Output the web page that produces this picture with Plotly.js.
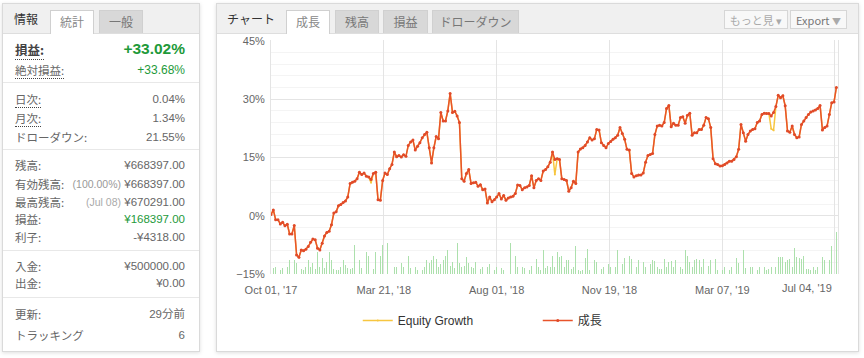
<!DOCTYPE html>
<html><head><meta charset="utf-8">
<script src="https://cdn.plot.ly/plotly-3.0.1.min.js"></script>
<style>
html,body{margin:0;padding:0;background:#fff;width:864px;height:358px;overflow:hidden;font-family:"Noto Sans CJK JP","Liberation Sans",sans-serif;}
.panel{position:absolute;background:#fff;border:1px solid #dadada;box-shadow:0 1px 4px rgba(0,0,0,0.13);}
.hdr{position:absolute;left:0;top:0;right:0;height:29px;background:#f0f0f0;border-bottom:1px solid #dedede;}
.hlab{position:absolute;top:6px;font-size:12px;color:#333;}
.tab{position:absolute;top:6px;height:23px;font-size:12px;color:#777;text-align:center;line-height:22px;background:#d8d8d8;border:1px solid #d0d0d0;border-bottom:none;box-sizing:border-box;}
.tab.on{background:#fff;height:24px;color:#888;}
.row{position:absolute;left:12px;right:14px;height:18px;line-height:18px;font-size:11.5px;color:#666;}
.row .v{position:absolute;right:0;top:0;color:#666;font-family:"Liberation Sans","Noto Sans CJK JP",sans-serif;}
.row .s{color:#999;font-size:10.5px;}
.dot{border-bottom:1px dotted #444;}
.sep{position:absolute;left:0;right:0;height:1px;background:#e8e8e8;}
.btn{position:absolute;top:6px;height:19px;line-height:19px;font-size:11px;color:#777;border:1px solid #d6d6d6;background:#f8f8f8;text-align:center;box-sizing:border-box;}
#chart{position:absolute;left:216px;top:30px;width:642px;height:320px;}
</style></head><body>

<div class="panel" style="left:2px;top:3px;width:196px;height:347px;">
  <div class="hdr"></div>
  <div class="hlab" style="left:11px;">情報</div>
  <div class="tab on" style="left:47px;width:44px;">統計</div>
  <div class="tab" style="left:96px;width:44px;">一般</div>

  <div class="row" style="top:37px;"><span class="dot" style="font-weight:bold;color:#444;font-size:12.5px;">損益:</span><span class="v" style="color:#1e9a3a;font-weight:bold;font-size:15.5px;top:-1px;">+33.02%</span></div>
  <div class="row" style="top:57px;"><span class="dot">絶対損益:</span><span class="v" style="color:#1e9a3a;font-size:12px;">+33.68%</span></div>
  <div class="sep" style="top:78px;"></div>
  <div class="row" style="top:86px;"><span class="dot">日次:</span><span class="v">0.04%</span></div>
  <div class="row" style="top:105px;"><span class="dot">月次:</span><span class="v">1.34%</span></div>
  <div class="row" style="top:124px;"><span>ドローダウン:</span><span class="v">21.55%</span></div>
  <div class="sep" style="top:145px;"></div>
  <div class="row" style="top:152px;"><span>残高:</span><span class="v">¥668397.00</span></div>
  <div class="row" style="top:171px;"><span>有効残高:</span><span class="v"><span class="s">(100.00%)</span> ¥668397.00</span></div>
  <div class="row" style="top:189px;"><span>最高残高:</span><span class="v"><span class="s" style="color:#aaa;">(Jul 08)</span> ¥670291.00</span></div>
  <div class="row" style="top:206px;"><span>損益:</span><span class="v" style="color:#1e9a3a;">¥168397.00</span></div>
  <div class="row" style="top:224px;"><span>利子:</span><span class="v">-¥4318.00</span></div>
  <div class="sep" style="top:246px;"></div>
  <div class="row" style="top:253px;"><span>入金:</span><span class="v">¥500000.00</span></div>
  <div class="row" style="top:270px;"><span>出金:</span><span class="v">¥0.00</span></div>
  <div class="sep" style="top:293px;"></div>
  <div class="row" style="top:301px;"><span>更新:</span><span class="v">29分前</span></div>
  <div class="row" style="top:322px;"><span>トラッキング</span><span class="v">6</span></div>
</div>

<div class="panel" style="left:216px;top:3px;width:641px;height:347px;">
  <div class="hdr"></div>
  <div class="hlab" style="left:10px;">チャート</div>
  <div class="tab on" style="left:69px;width:44px;">成長</div>
  <div class="tab" style="left:118px;width:44px;">残高</div>
  <div class="tab" style="left:166px;width:45px;">損益</div>
  <div class="tab" style="left:215px;width:87px;">ドローダウン</div>
  <div class="btn" style="left:507px;width:64px;color:#aaa;">もっと見 ▾</div>
  <div class="btn" style="left:573px;width:57px;">Export <span style="color:#aaa;font-size:9px;">▼</span></div>
</div>

<div id="chart"></div>

<script>
// Growth (%), one value per point
const growth = [
 0.3,1.5,-1.0,-1.0,-2.1,-1.7,-2.6,-2.2,-4.7,-4.7,-2.5,-10.1,-10.7,-8.8,-9.0,-8.6,-7.9,-6.8,-6.0,-6.2,
 -8.4,-8.8,-7.1,-5.2,-4.3,-4.0,-2.3,0.7,1.0,2.6,2.9,3.4,3.8,4.8,8.3,8.6,8.9,9.5,11.2,10.6,
 11.0,10.2,10.0,9.3,10.9,11.2,4.1,4.0,9.1,11.0,10.6,12.1,13.2,16.4,15.2,15.5,15.1,15.7,15.3,
 18.1,19.0,19.5,16.9,17.9,18.8,20.1,20.9,21.5,17.5,13.6,17.5,20.4,19.8,26.6,24.4,24.4,27.0,31.5,26.6,
 26.9,25.7,24.0,9.5,8.9,10.9,11.9,8.3,8.5,8.6,7.6,8.0,6.7,6.9,3.3,4.8,3.6,4.1,4.8,5.7,
 4.3,5.2,4.0,4.6,4.8,5.0,5.7,7.9,7.8,6.7,7.2,7.4,7.8,10.3,7.2,9.1,9.5,9.1,11.5,11.9,
 12.6,13.8,16.4,
 14.5,14.7,14.5,9.5,9.3,9.1,6.3,7.2,8.9,8.3,16.4,17.2,17.5,18.1,19.0,20.1,19.5,19.8,22.2,22.1,
 18.8,18.1,17.5,18.6,19.1,19.7,20.1,20.7,22.7,21.2,19.7,17.1,16.9,10.9,10.0,10.3,10.5,10.5,11.0,13.8,
 15.5,15.8,16.0,20.9,23.1,23.3,23.1,24.0,27.6,28.4,22.9,23.8,23.3,23.3,25.3,25.5,23.8,25.9,26.4,20.7,
 21.4,
 21.4,22.2,22.2,23.3,25.3,25.0,22.7,14.7,13.4,13.2,12.8,12.9,13.2,13.6,14.0,14.0,14.5,15.2,17.1,23.5,
 21.4,19.2,20.9,21.8,22.2,22.4,24.0,24.4,26.1,26.4,26.3,26.3,25.7,26.6,28.1,31.0,30.4,30.9,28.3,21.8,
 21.5,23.1,20.9,20.1,20.3,23.5,24.4,25.3,26.1,26.7,27.0,27.2,27.6,28.4,22.1,22.7,23.1,26.1,29.1,29.3,
 33.02
];
// Points where Equity Growth differs from Growth
const equityDiffIdx = [43, 122, 215, 216];
const equityDiffVal = [8.5, 10.6, 22.4, 22.0];
// Daily volume bars (relative units)
const volume = [
 0,
 6,7,4,4,6,7,7,14,11,14, 11,15,5,4,7,14,7,11,5,22, 7,16,6,12,22,14,5,4,4,7, 14,9,6,5,6,29,7,14,6,7,
 22,18,16,5,22,16,18,29,26,31, 0,
 18,7,7,5,11,7,14,18,6,7, 7,4,7,4,7,14,11,14,18,15, 7,10,14,18,24,8,12,6,31,11, 7,8,17,11,7,6,12,18,5,7,
 14,7,10,5,4,7,7,6,4,4, 0,
 31,22,18,7,7,7,6,7,4,8, 12,15,7,4,24,6,
 8,7,18,7,22,17,
 18,7,14,14,5,7,28,4,3,4, 16,25,4,11,14,12,7,5,7,6, 10,7,5,7,24,4,10,16,14,18, 15,5,7,14,7,12,7,6,10,14,
 13,7,5,5,15,7,12,13,7,14, 0,
 7,5,24,18,12,7,14,15,14,7, 15,18,8,14,17,15,4,4,4,7, 14,4,7,12,16,11,18,24,6,5, 7,7,8,4,7,16,7,4,5,7, 0,
 7,17,17,17,12,14,15,7,26,17, 16,15,18,5,5,4,7,4,7,9, 17,14,17,14,28,39,42
];
const tickIdx = [0, 48.5, 97, 145.5, 194, 242];
const tickLabels = ["Oct 01, '17", "Mar 21, '18", "Aug 01, '18", "Nov 19, '18", "Mar 07, '19", "Jul 04, '19"];
const yTicks = [-15, 0, 15, 30, 45];
const yTickLabels = ["\u221215%", "0%", "15%", "30%", "45%"];

const idx = growth.map((_, i) => i);
const equity = growth.slice();
equityDiffIdx.forEach((k, j) => { equity[k] = equityDiffVal[j]; });

const fnt = {family: 'Liberation Sans, Arial, sans-serif', size: 11, color: '#666'};
const traces = [
  {type: 'bar', x: idx.slice(0, volume.length), y: volume, yaxis: 'y2', width: 0.35,
   marker: {color: '#ace0ac'}, showlegend: false, hoverinfo: 'skip'},
  {type: 'scatter', mode: 'lines+markers', name: 'Equity Growth', x: idx, y: equity,
   line: {color: '#f7c640', width: 1.5}, marker: {color: '#f7c640', size: 2}},
  {type: 'scatter', mode: 'lines+markers', name: '成長', x: idx, y: growth,
   line: {color: '#e8532b', width: 1.5}, marker: {color: '#e04a2a', size: 3}}
];
const layout = {
  width: 642, height: 320,
  margin: {l: 55, r: 20, t: 10, b: 76},
  paper_bgcolor: 'rgba(0,0,0,0)', plot_bgcolor: '#fff',
  showlegend: true, bargap: 0,
  xaxis: {range: [0, 243.7], tickmode: 'array', tickvals: tickIdx,
          ticktext: tickLabels.slice(0, -1).concat(['']),
          showgrid: true, gridcolor: '#e4e4e4', gridwidth: 1, zeroline: false,
          ticks: 'outside', ticklen: 6, tickcolor: 'rgba(0,0,0,0)', tickfont: fnt, showline: false},
  yaxis: {range: [-15, 45.25], tickmode: 'array', tickvals: yTicks, ticktext: yTickLabels,
          showgrid: true, gridcolor: '#e4e4e4', zeroline: false,
          minor: {dtick: 3, tick0: 0, showgrid: true, gridcolor: '#f4f4f4'},
          showline: true, mirror: true, linecolor: '#e4e4e4',
          ticks: 'outside', ticklen: 3, tickcolor: 'rgba(0,0,0,0)', tickfont: fnt},
  yaxis2: {range: [0, 234], overlaying: 'y', visible: false, fixedrange: true},
  legend: {orientation: 'h', x: 0.153, xanchor: 'left', y: -0.137, yanchor: 'top',
           entrywidth: 135, font: {family: 'Liberation Sans, Noto Sans CJK JP, sans-serif', size: 12, color: '#333'},
           traceorder: 'normal', bgcolor: 'rgba(0,0,0,0)'},
  annotations: [{xref: 'x', yref: 'paper', x: tickIdx[tickIdx.length - 1], y: 0, xanchor: 'right', yanchor: 'top',
                 yshift: -6, text: tickLabels[tickLabels.length - 1], showarrow: false, font: fnt}]
};
Plotly.newPlot('chart', traces, layout, {displayModeBar: false, staticPlot: true});
</script>
</body></html>
